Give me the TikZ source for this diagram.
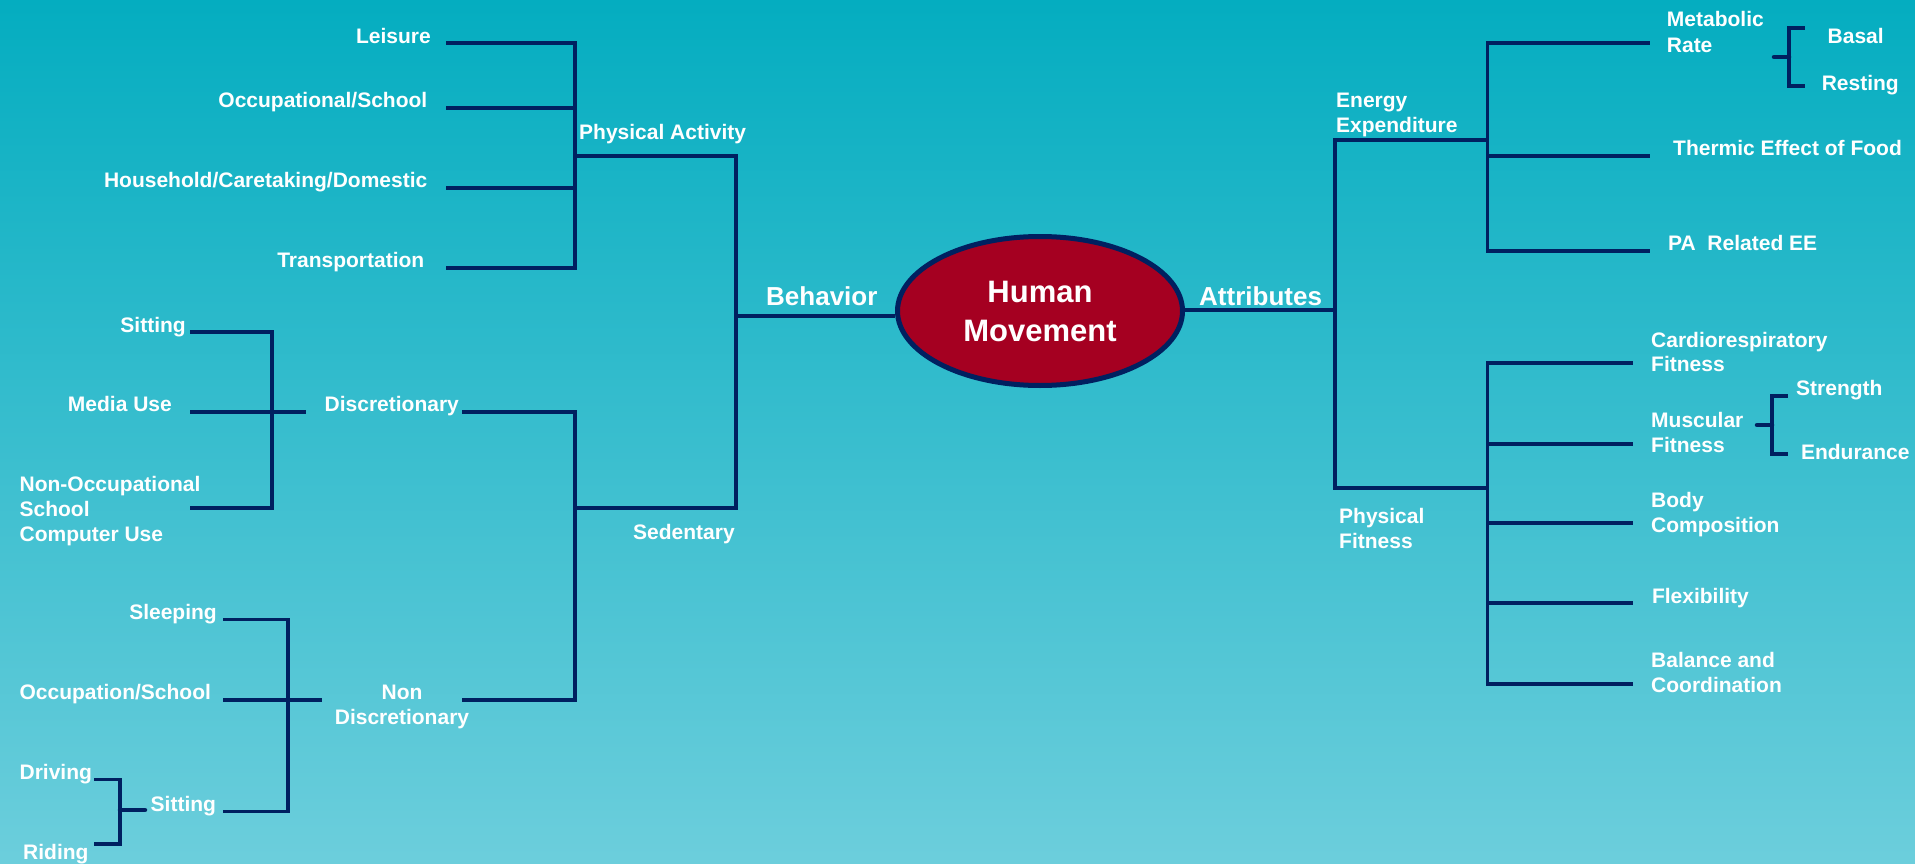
\documentclass[tikz,border=0pt]{standalone}
\usepackage{fontspec}
\setmainfont{Liberation Sans}
\usetikzlibrary{shapes.geometric}
\definecolor{navy}{RGB}{0,32,96}
\definecolor{bgtop}{RGB}{4,173,192}
\definecolor{bgbot}{RGB}{108,206,220}
\definecolor{hmred}{RGB}{165,0,33}
\begin{document}
\begin{tikzpicture}[x=1pt,y=-1pt,
  ln/.style={draw=navy, line width=3.8pt, line cap=rect},
  tick/.style={draw=navy, line width=4.5pt, line cap=round},
  lbl/.style={text=white, inner sep=0pt, align=left, font=\bfseries\fontsize{21}{25}\selectfont},
  big/.style={text=white, inner sep=0pt, font=\bfseries\fontsize{26}{30}\selectfont}]
\useasboundingbox (0,0) rectangle (1915,864);
\shade[top color=bgtop, bottom color=bgbot] (0,0) rectangle (1915,864);

% ---------- centre ----------
\node[ellipse, draw=navy, line width=5pt, fill=hmred, text=white, inner sep=0pt,
      minimum width=285, minimum height=149, align=center,
      font=\bfseries\fontsize{31}{39}\selectfont] (hm) at (1040,311) {Human\\Movement};

% ---------- coordinates ----------
\coordinate (behJ) at (736,316);
\coordinate (paJ) at (575,156);
\coordinate (sedJ) at (575,508);
\coordinate (l1) at (448,43);
\coordinate (l2) at (448,108);
\coordinate (l3) at (448,188);
\coordinate (l4) at (448,268);
\coordinate (dl) at (464,412);
\coordinate (ndl) at (464,700);
\coordinate (d1) at (192,332);
\coordinate (d2) at (192,412);
\coordinate (d3) at (192,508);
\coordinate (dV) at (272,412);
\coordinate (dE) at (304,412);
\coordinate (n1) at (224.5,619.5);
\coordinate (n2) at (224.5,700);
\coordinate (n3) at (224.5,811.5);
\coordinate (nV) at (288,700);
\coordinate (nE) at (320,700);
\coordinate (drT) at (96,779.5);
\coordinate (drB) at (96,844);
\coordinate (drV) at (120,810);
\coordinate (drM) at (145,810);
\coordinate (attJ) at (1335,310);
\coordinate (eeJ) at (1335,140);
\coordinate (pfJ) at (1335,488);
\coordinate (eeV) at (1487.5,140);
\coordinate (pfV) at (1487.5,488);
\coordinate (r1) at (1648,43);
\coordinate (r2) at (1648,156);
\coordinate (r3) at (1648,251);
\coordinate (p1) at (1631.4,363);
\coordinate (p2) at (1631.4,444);
\coordinate (p3) at (1631.4,523);
\coordinate (p4) at (1631.4,603);
\coordinate (p5) at (1631.4,684);
\coordinate (mrT) at (1803,28);
\coordinate (mrB) at (1803,86);
\coordinate (mrV) at (1789,57);
\coordinate (mrM) at (1774,57);
\coordinate (mfT) at (1786,396);
\coordinate (mfB) at (1786,454);
\coordinate (mfV) at (1772,425);
\coordinate (mfM) at (1757,425);

% ---------- left connectors ----------
\draw[ln, line cap=butt] (behJ) -- (behJ -| hm.west);
\draw[ln] (paJ) -| (behJ) |- (sedJ);
\draw[ln] (l1) -| (paJ) |- (l4);
\draw[ln] (l2) -- (l2 -| paJ);
\draw[ln] (l3) -- (l3 -| paJ);
\draw[ln] (dl) -| (sedJ) |- (ndl);
\draw[ln] (d1) -| (dV) |- (d3);
\draw[ln] (d2) -- (dE);
\draw[ln] (n1) -| (nV) |- (n3);
\draw[ln] (n2) -- (nE);
\draw[ln] (drT) -| (drV) |- (drB);
\draw[tick] (drV) -- (drM);

% ---------- right connectors ----------
\draw[ln, line cap=butt] (hm.east |- attJ) -- (attJ);
\draw[ln] (eeJ) -- (pfJ);
\draw[ln] (eeJ) -- (eeV);
\draw[ln] (pfJ) -- (pfV);
\draw[ln] (r1) -| (eeV) |- (r3);
\draw[ln] (r2) -- (r2 -| eeV);
\draw[ln] (p1) -| (pfV) |- (p5);
\draw[ln] (p2) -- (p2 -| pfV);
\draw[ln] (p3) -- (p3 -| pfV);
\draw[ln] (p4) -- (p4 -| pfV);
\draw[ln] (mrT) -| (mrV) |- (mrB);
\draw[tick] (mrM) -- (mrV);
\draw[ln] (mfT) -| (mfV) |- (mfB);
\draw[tick] (mfM) -- (mfV);

% ---------- labels ----------
\node[big, anchor=north west] (beh) at (766,286) {Behavior};
\node[big, anchor=north west] (att) at (1199,286) {Attributes};

\node[lbl, anchor=north east] (leis) at (431,28.5) {Leisure};
\node[lbl, anchor=north east] (occ) at (427.5,92.5) {Occupational/School};
\node[lbl, anchor=north east] (house) at (427.5,172.5) {Household/Caretaking/Domestic};
\node[lbl, anchor=north east] (trans) at (424.5,252.5) {Transportation};
\node[lbl, anchor=north west] (pa) at (579,124.5) {Physical Activity};
\node[lbl, anchor=north east] (sit1) at (186,317) {Sitting};
\node[lbl, anchor=north east] (media) at (172,396.5) {Media Use};
\node[lbl, anchor=north west] (nonocc) at (19.4,476.5) {Non-Occupational\\School\\Computer Use};
\node[lbl, anchor=north west] (disc) at (324.5,396.5) {Discretionary};
\node[lbl, anchor=north west] (sed) at (633,524.5) {Sedentary};
\node[lbl, anchor=north east] (sleep) at (217,604.5) {Sleeping};
\node[lbl, anchor=north west] (occ2) at (19.4,684.5) {Occupation/School};
\node[lbl, anchor=north, align=center] (ndisc) at (402,684.5) {Non\\Discretionary};
\node[lbl, anchor=north west] (drive) at (19.4,764.5) {Driving};
\node[lbl, anchor=north west] (ride) at (23,844.5) {Riding};
\node[lbl, anchor=north west] (sit2) at (150.5,796) {Sitting};

\node[lbl, anchor=north west] (ee) at (1336,92.5) {Energy\\Expenditure};
\node[lbl, anchor=north west, font=\bfseries\fontsize{21}{26}\selectfont] (mr) at (1666.7,11.5) {Metabolic\\Rate};
\node[lbl, anchor=north west] (basal) at (1827.5,28.5) {Basal};
\node[lbl, anchor=north west] (rest) at (1821.6,75.5) {Resting};
\node[lbl, anchor=north west] (tef) at (1673,140.5) {Thermic Effect of Food};
\node[lbl, anchor=north west] (paee) at (1668,235.5) {PA\ \ Related EE};
\node[lbl, anchor=north west, font=\bfseries\fontsize{21}{24}\selectfont] (cardio) at (1651,332.5) {Cardiorespiratory\\Fitness};
\node[lbl, anchor=north west] (musc) at (1651,412.5) {Muscular\\Fitness};
\node[lbl, anchor=north west] (str) at (1796,380.5) {Strength};
\node[lbl, anchor=north west] (endu) at (1800.8,444.5) {Endurance};
\node[lbl, anchor=north west] (body) at (1651,492.5) {Body\\Composition};
\node[lbl, anchor=north west] (flex) at (1651.8,588.5) {Flexibility};
\node[lbl, anchor=north west] (bal) at (1651,652.5) {Balance and\\Coordination};
\node[lbl, anchor=north west] (pf) at (1339,508.5) {Physical\\Fitness};
\end{tikzpicture}
\end{document}
